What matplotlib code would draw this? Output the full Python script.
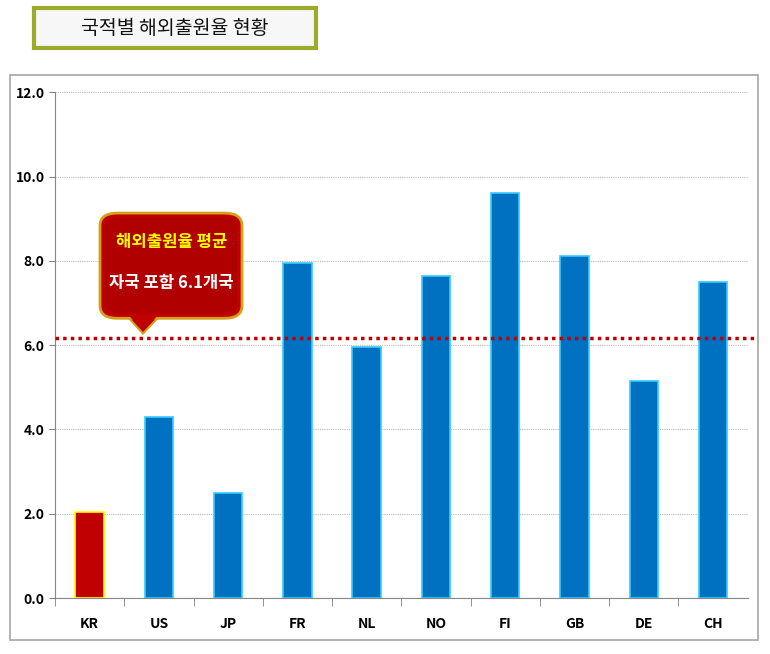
import matplotlib.pyplot as plt
from matplotlib.patches import FancyBboxPatch, Rectangle, Polygon

plt.rcParams['font.family'] = ['Noto Sans CJK KR', 'DejaVu Sans']

countries = ['KR', 'US', 'JP', 'FR', 'NL', 'NO', 'FI', 'GB', 'DE', 'CH']
rates = [2.05, 4.3, 2.5, 7.95, 5.95, 7.65, 9.6, 8.12, 5.15, 7.5]
average = 6.17
title = '국적별 해외출원율 현황'
note_line1 = '해외출원율 평균'
note_line2 = '자국 포함 6.1개국'

fig = plt.figure(figsize=(7.7, 6.54), dpi=100)

# outer chart border
fig.patches.append(Rectangle((0.013, 0.021), 0.971, 0.864, transform=fig.transFigure,
                             fill=False, edgecolor='#a6a6a6', linewidth=1.2))

# title box
fig.patches.append(Rectangle((0.044, 0.926), 0.366, 0.062, transform=fig.transFigure,
                             facecolor='#f7f7f7', edgecolor='#9bab2c', linewidth=3))
fig.text(0.227, 0.957, title, ha='center', va='center', fontsize=14, color='#111111')

ax = fig.add_axes([0.0714, 0.0856, 0.8996, 0.7734])
x = range(len(countries))
face = ['#c00000' if c == 'KR' else '#0070c0' for c in countries]
edge = ['#ffff00' if c == 'KR' else '#33ccff' for c in countries]
ax.bar(x, rates, width=0.41, color=face, edgecolor=edge, linewidth=1.2, zorder=3)

ax.axhline(average, color='#c00000', linestyle=(0, (1, 1.2)), linewidth=2.5, zorder=4,
           xmin=0, xmax=1.01, clip_on=False)

ax.set_xlim(-0.5, len(countries) - 0.5)
ax.set_ylim(0, 12)
ax.set_yticks([0, 2, 4, 6, 8, 10, 12])
ax.set_yticklabels([f'{v:.1f}' for v in [0, 2, 4, 6, 8, 10, 12]], fontweight='bold', fontsize=10)
ax.set_xticks(list(x))
ax.set_xticklabels(countries, fontweight='bold', fontsize=10)
ax.tick_params(axis='x', length=0, pad=14)
ax.tick_params(axis='y', length=4, color='#808080')
ax.set_xticks([i + 0.5 for i in range(len(countries) - 1)] + [-0.5], minor=True)
ax.tick_params(axis='x', which='minor', length=6, color='#808080', direction='out')

ax.grid(axis='y', color='#bbbbbb', linestyle=(0, (1, 1)), linewidth=0.8, zorder=0)
for s in ['top', 'right']:
    ax.spines[s].set_visible(False)
for s in ['left', 'bottom']:
    ax.spines[s].set_color('#868686')

# callout
ax.add_patch(Polygon([(0.105, 0.556), (0.15, 0.556), (0.127, 0.523)], closed=True,
                     transform=ax.transAxes, facecolor='#c00000', edgecolor='#d4a017',
                     linewidth=1.5, zorder=5, clip_on=False))
ax.add_patch(FancyBboxPatch((0.065, 0.553), 0.205, 0.208, boxstyle='round,pad=0.0,rounding_size=0.025',
                            transform=ax.transAxes, facecolor='#c00000', edgecolor='#d4a017',
                            linewidth=2, zorder=6, clip_on=False))
ax.add_patch(FancyBboxPatch((0.072, 0.562), 0.191, 0.19, boxstyle='round,pad=0.0,rounding_size=0.02',
                            transform=ax.transAxes, facecolor='#b00000', edgecolor='none',
                            zorder=6, clip_on=False))
ax.add_patch(Polygon([(0.107, 0.558), (0.148, 0.558), (0.127, 0.528)], closed=True,
                     transform=ax.transAxes, facecolor='#c00000', edgecolor='none',
                     zorder=7, clip_on=False))
ax.text(0.168, 0.703, note_line1, transform=ax.transAxes, ha='center', va='center',
        color='#ffff00', fontsize=12, fontweight='bold', zorder=8)
ax.text(0.168, 0.622, note_line2, transform=ax.transAxes, ha='center', va='center',
        color='white', fontsize=12, fontweight='bold', zorder=8)

fig.savefig('out.png', dpi=100)
